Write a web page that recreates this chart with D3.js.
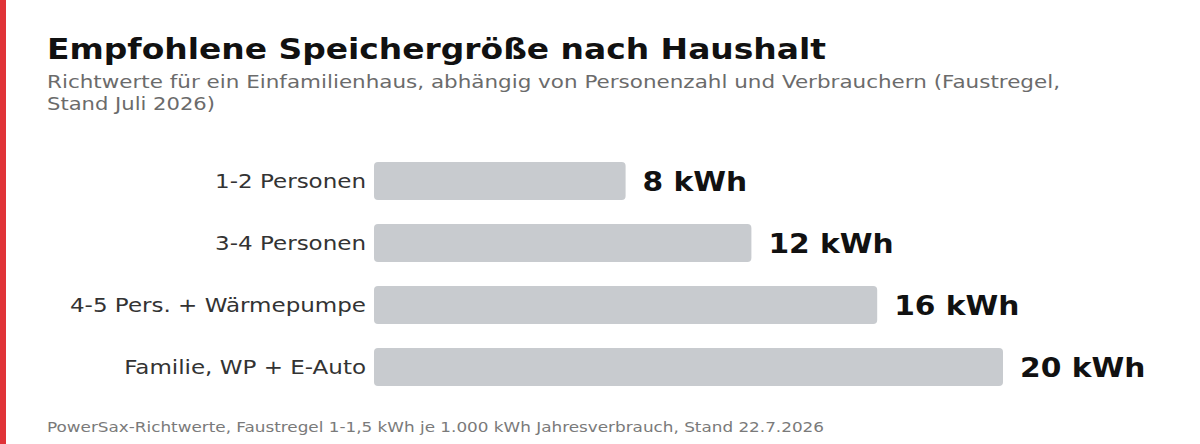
<!DOCTYPE html>
<html>
<head>
<meta charset="utf-8">
<style>
  body { margin: 0; background: #fff; }
  svg text { font-family: "DejaVu Sans", sans-serif; }
</style>
</head>
<body>
<svg width="1200" height="444"></svg>
<script src="https://d3js.org/d3.v7.min.js"></script>
<script>

const categories = ["1-2 Personen", "3-4 Personen", "4-5 Pers. + Wärmepumpe", "Familie, WP + E-Auto"];
const values = [8, 12, 16, 20];
const unit = "kWh";

const title = "Empfohlene Speichergröße nach Haushalt";
const subtitle = ["Richtwerte für ein Einfamilienhaus, abhängig von Personenzahl und Verbrauchern (Faustregel,", "Stand Juli 2026)"];
const footer = "PowerSax-Richtwerte, Faustregel 1-1,5 kWh je 1.000 kWh Jahresverbrauch, Stand 22.7.2026";

const svg = d3.select("svg");

// stretch or squeeze a text node so it spans the given width
function fit(sel, w) {
  sel.attr("textLength", w).attr("lengthAdjust", "spacingAndGlyphs");
}
// widen text by a factor (the original font runs wider than DejaVu)
function widen(sel, k) {
  sel.each(function() {
    const w = this.getComputedTextLength();
    d3.select(this).call(fit, w * k);
  });
}

svg.append("rect")
  .attr("x", 0).attr("y", 0)
  .attr("width", 6).attr("height", 444)
  .attr("fill", "#e03338");

svg.append("text")
  .attr("x", 47).attr("y", 59)
  .attr("font-size", 29)
  .attr("font-weight", 700)
  .attr("fill", "#111")
  .text(title)
  .call(fit, 779);

svg.append("g")
  .selectAll("text")
  .data(subtitle)
  .enter()
  .append("text")
  .attr("x", 47)
  .attr("y", (d, i) => 88 + i * 22)
  .attr("font-size", 17)
  .attr("fill", "#6b6b6b")
  .text(d => d)
  .each(function(d, i) { d3.select(this).call(fit, i === 0 ? 1013 : 168); });

const x = d3.scaleLinear().domain([0, 20]).range([374, 1003]);
const y = d3.scaleBand().domain(categories).range([149.6, 398.4]).paddingInner(0.387).paddingOuter(0.2);

svg.append("g")
  .selectAll("rect")
  .data(values)
  .enter()
  .append("rect")
  .attr("x", x(0))
  .attr("y", (d, i) => y(categories[i]))
  .attr("width", d => x(d) - x(0))
  .attr("height", y.bandwidth())
  .attr("rx", 4)
  .attr("fill", "#c8cbcf");

svg.append("g")
  .selectAll("text")
  .data(categories)
  .enter()
  .append("text")
  .attr("x", 366)
  .attr("y", d => y(d) + y.bandwidth() / 2)
  .attr("dy", "0.36em")
  .attr("text-anchor", "end")
  .attr("font-size", 20)
  .attr("fill", "#333")
  .text(d => d)
  .call(widen, 1.15);

svg.append("g")
  .selectAll("text")
  .data(values)
  .enter()
  .append("text")
  .attr("x", d => x(d) + 17)
  .attr("y", (d, i) => y(categories[i]) + y.bandwidth() / 2)
  .attr("dy", "0.36em")
  .attr("font-size", 27)
  .attr("font-weight", 700)
  .attr("fill", "#111")
  .text(d => d + " " + unit)
  .call(widen, 1.1);

svg.append("text")
  .attr("x", 47).attr("y", 432)
  .attr("font-size", 14)
  .attr("fill", "#7a7a7a")
  .text(footer)
  .call(fit, 777);

</script>
</body>
</html>
